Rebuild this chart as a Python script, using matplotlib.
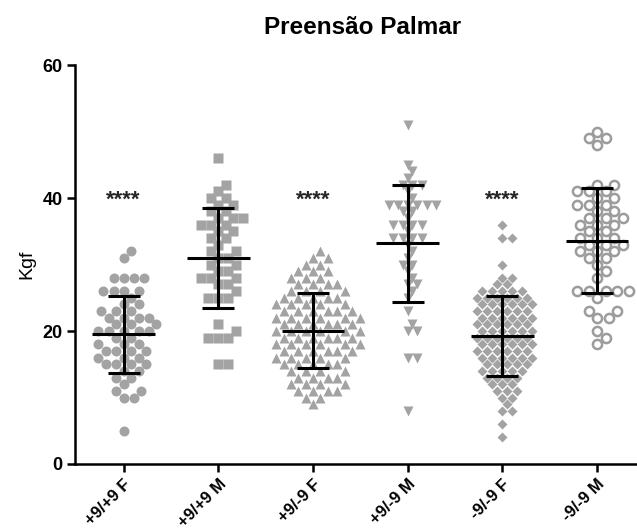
import numpy as np
import matplotlib.pyplot as plt

plt.rcParams['font.family'] = ['Liberation Sans', 'DejaVu Sans']

groups = ["+9/+9 F", "+9/+9 M", "+9/-9 F", "+9/-9 M", "-9/-9 F", "-9/-9 M"]

g1 = [32, 31, 28, 28, 28, 28, 26, 26, 26, 26, 25, 24, 24, 23, 23, 23, 22, 22, 22, 22,
      21, 21, 21, 20, 20, 20, 20, 20, 19, 19, 18, 18, 18, 17, 17, 17, 17, 16, 16, 16,
      15, 15, 15, 15, 14, 14, 13, 13, 12, 11, 11, 10, 10, 5]
g2 = [46, 42, 41, 40, 40, 39, 39, 38, 38, 37, 37, 37, 36, 36, 36, 35, 35, 34, 34, 33,
      32, 32, 31, 31, 30, 30, 29, 29, 28, 28, 28, 27, 27, 26, 25, 25, 25, 21, 20, 19,
      19, 19, 15, 15]
# value -> count for the denser groups
g3_counts = {32: 1, 31: 2, 30: 2, 29: 3, 28: 3, 27: 4, 26: 4, 25: 5, 24: 5, 23: 6,
             22: 6, 21: 6, 20: 6, 19: 6, 18: 6, 17: 6, 16: 5, 15: 5, 14: 4, 13: 4,
             12: 4, 11: 4, 10: 2, 9: 1}
g4 = [51, 45, 44, 43, 42, 42, 42, 41, 40, 39, 39, 39, 39, 39, 39, 38, 38, 37, 36, 36,
      36, 36, 35, 34, 34, 34, 34, 33, 32, 31, 30, 30, 29, 28, 27, 27, 26, 25, 23, 21,
      20, 20, 16, 16, 8]
g5_counts = {36: 1, 34: 2, 30: 1, 28: 2, 27: 2, 26: 5, 25: 6, 24: 6, 23: 6, 22: 6,
             21: 6, 20: 6, 19: 6, 18: 6, 17: 6, 16: 6, 15: 5, 14: 5, 13: 4, 12: 3,
             11: 3, 10: 2, 9: 1, 8: 2, 6: 1, 4: 1}
g6 = [50, 49, 49, 48, 42, 42, 41, 41, 41, 40, 40, 39, 39, 39, 38, 38, 37, 37, 37, 36,
      36, 36, 35, 35, 34, 34, 34, 33, 33, 33, 32, 32, 32, 31, 31, 30, 29, 28, 26, 26,
      26, 26, 26, 25, 23, 23, 22, 22, 20, 19, 18]

def expand(counts):
    return [v for v, c in counts.items() for _ in range(c)]

data = [g1, g2, expand(g3_counts), g4, expand(g5_counts), g6]
starred = [0, 2, 4]

grey = '#a3a3a3'
styles = [
    dict(marker='o', ms=7.2, mfc=grey, mec='none'),
    dict(marker='s', ms=6.8, mfc=grey, mec='none'),
    dict(marker='^', ms=6.5, mfc=grey, mec='none'),
    dict(marker='v', ms=6.5, mfc=grey, mec='none'),
    dict(marker='D', ms=4.8, mfc=grey, mec='none'),
    dict(marker='o', ms=6.6, mfc='white', mec='#9c9c9c', mew=1.8),
]
# collision diameter (px) and packing factor for each group
spacing = [(10.0, 0.85), (10.0, 0.85), (9.8, 0.9), (9.5, 0.85), (10.0, 0.8), (11.5, 0.85)]

XPX, YPX = 94.7, 6.63   # pixels per unit on each axis


def swarm(vals, d, k_pack):
    # greedy beeswarm in pixel space, returns x offsets in data units
    vals = np.asarray(vals, float)
    offs = np.zeros(len(vals))
    placed = []
    step = d / 4.0
    cands = [0.0]
    for k in range(1, 120):
        cands += [k * step, -k * step]
    lim = (k_pack * d) ** 2
    for i in np.argsort(vals):
        y = vals[i] * YPX
        near = [(px, py) for px, py in placed if abs(py - y) < d]
        for c in cands:
            if all((c - px) ** 2 + (y - py) ** 2 >= lim for px, py in near):
                break
        placed.append((c, y))
        offs[i] = c / XPX
    return offs


fig = plt.figure(figsize=(6.37, 5.29), dpi=100)
ax = fig.add_axes([75 / 637, 65 / 529, 1 - 75 / 637, (464 - 65) / 529])

for i, vals in enumerate(data):
    vals = np.asarray(vals, float)
    d, kp = spacing[i]
    x = i + swarm(vals, d, kp)
    ax.plot(x, vals, ls='none', zorder=2, **styles[i])
    m, sd = vals.mean(), vals.std(ddof=1)
    ax.plot([i - 0.33, i + 0.33], [m, m], color='black', lw=2.2, zorder=3,
            solid_capstyle='butt')
    ax.errorbar(i, m, yerr=sd, fmt='none', ecolor='black', elinewidth=2.2,
                capsize=11.5, capthick=2.2, zorder=3)
    if i in starred:
        ax.text(i, 38.8, '****', ha='center', va='baseline', fontsize=16,
                fontweight='bold', color='#262626')

ax.set_xlim(-0.512, 5.42)
ax.set_ylim(0, 60)
ax.set_yticks([0, 20, 40, 60])
ax.set_xticks(range(len(groups)))
ax.set_xticklabels(groups, rotation=45, ha='right', rotation_mode='anchor',
                   fontsize=12, fontweight='bold')
for lab in ax.get_yticklabels():
    lab.set_fontweight('bold')
    lab.set_fontsize(13)
ax.tick_params(axis='both', width=1.8, length=6, direction='out', pad=3)
for s in ['top', 'right']:
    ax.spines[s].set_visible(False)
for s in ['left', 'bottom']:
    ax.spines[s].set_linewidth(1.8)
ax.set_ylabel('Kgf', fontsize=14)
ax.yaxis.set_label_coords(-0.071, 0.5)
fig.text(363 / 637, 1 - 28 / 529, 'Preensão Palmar', ha='center', va='center',
         fontsize=17.5, fontweight='bold')

fig.savefig('out.png', dpi=100)
